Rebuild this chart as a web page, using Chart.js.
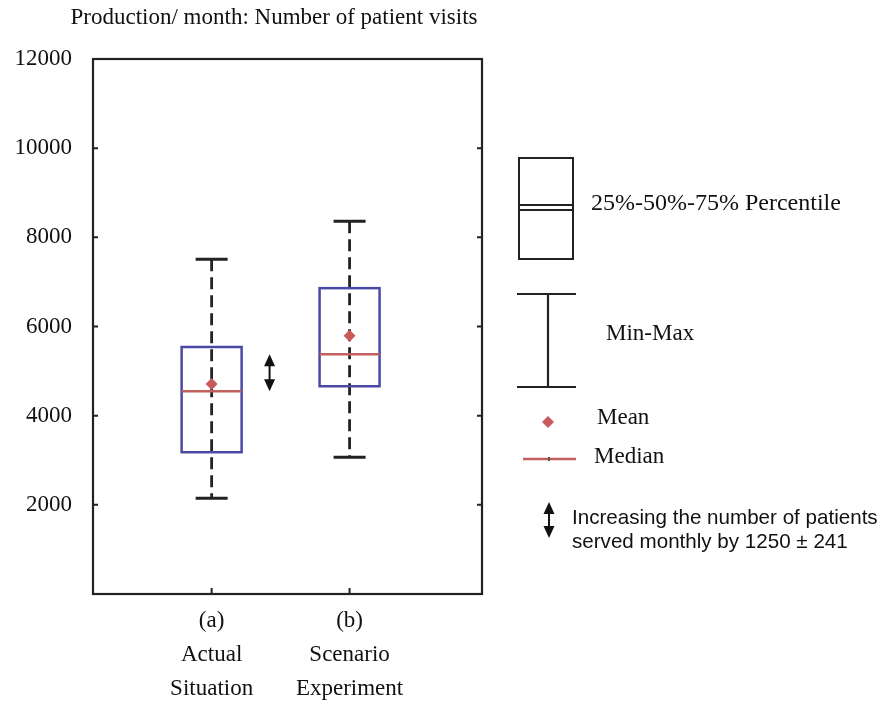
<!DOCTYPE html>
<html lang="en">
<head>
<meta charset="UTF-8">
<title>Production / month: Number of patient visits</title>
<script src="https://cdn.jsdelivr.net/npm/chart.js@4.4.0/dist/chart.umd.min.js"></script>
<style>
  html, body { margin: 0; padding: 0; background: #fff; }
</style>
</head>
<body>
<canvas id="boxChart" width="891" height="701"></canvas>
<script>
// data
var groups = ['(a)', '(b)'];
var groupNames = [['Actual', 'Situation'], ['Scenario', 'Experiment']];
var groupPos = [1, 2];
var minVals = [2150, 3070];
var q1Vals = [3180, 4660];
var medianVals = [4550, 5380];
var q3Vals = [5540, 6860];
var maxVals = [7510, 8360];
var meanVals = [4710, 5790];
var yTicks = [0, 2000, 4000, 6000, 8000, 10000, 12000];

var serif = "'Liberation Serif', 'Times New Roman', serif";
var sans = "'Liberation Sans', Arial, sans-serif";
var boxColor = '#4a4aa6';
var medColor = '#c0605f';
var meanColor = '#c85a5a';

var meanPoints = groupPos.map(function (p, i) { return { x: p, y: meanVals[i] }; });

function arrow(ctx, x, y1, y2) {
  // double headed arrow, y1 = top, y2 = bottom
  ctx.save();
  ctx.strokeStyle = '#111';
  ctx.fillStyle = '#111';
  ctx.lineWidth = 2;
  ctx.beginPath();
  ctx.moveTo(x, y1 + 8);
  ctx.lineTo(x, y2 - 8);
  ctx.stroke();
  ctx.beginPath();
  ctx.moveTo(x, y1); ctx.lineTo(x - 5.5, y1 + 12); ctx.lineTo(x + 5.5, y1 + 12); ctx.closePath();
  ctx.fill();
  ctx.beginPath();
  ctx.moveTo(x, y2); ctx.lineTo(x - 5.5, y2 - 12); ctx.lineTo(x + 5.5, y2 - 12); ctx.closePath();
  ctx.fill();
  ctx.restore();
}

var boxPlugin = {
  id: 'boxes',
  beforeDatasetsDraw: function (chart) {
    var ctx = chart.ctx, xs = chart.scales.x, ys = chart.scales.y;
    var boxHalf = 30, capHalf = 16;
    ctx.save();
    for (var i = 0; i < groups.length; i++) {
      var cx = xs.getPixelForValue(groupPos[i]);
      var yMin = ys.getPixelForValue(minVals[i]);
      var yMax = ys.getPixelForValue(maxVals[i]);
      var yQ1 = ys.getPixelForValue(q1Vals[i]);
      var yQ3 = ys.getPixelForValue(q3Vals[i]);
      var yMed = ys.getPixelForValue(medianVals[i]);

      // whisker (dashed, runs through the box)
      ctx.strokeStyle = '#222';
      ctx.lineWidth = 2.8;
      ctx.setLineDash([12, 6]);
      ctx.beginPath();
      ctx.moveTo(cx, yMax);
      ctx.lineTo(cx, yMin);
      ctx.stroke();
      ctx.setLineDash([]);

      // caps
      ctx.lineWidth = 3;
      ctx.beginPath();
      ctx.moveTo(cx - capHalf, yMax); ctx.lineTo(cx + capHalf, yMax);
      ctx.moveTo(cx - capHalf, yMin); ctx.lineTo(cx + capHalf, yMin);
      ctx.stroke();

      // box
      ctx.strokeStyle = boxColor;
      ctx.lineWidth = 2.5;
      ctx.strokeRect(cx - boxHalf, yQ3, boxHalf * 2, yQ1 - yQ3);

      // median
      ctx.strokeStyle = medColor;
      ctx.lineWidth = 2.5;
      ctx.beginPath();
      ctx.moveTo(cx - boxHalf, yMed); ctx.lineTo(cx + boxHalf, yMed);
      ctx.stroke();
    }
    ctx.restore();

    // arrow between the two medians
    var ax = xs.getPixelForValue(1.42);
    arrow(ctx, ax, ys.getPixelForValue(medianVals[1]), ys.getPixelForValue(medianVals[0]));
  },
  afterDraw: function (chart) {
    var ctx = chart.ctx, a = chart.chartArea, xs = chart.scales.x, ys = chart.scales.y;
    ctx.save();
    // frame
    ctx.strokeStyle = '#222';
    ctx.lineWidth = 2.2;
    ctx.strokeRect(a.left, a.top, a.right - a.left, a.bottom - a.top);
    // inward ticks
    ctx.lineWidth = 2;
    ctx.beginPath();
    yTicks.forEach(function (v) {
      var y = ys.getPixelForValue(v);
      ctx.moveTo(a.left, y); ctx.lineTo(a.left + 5, y);
      ctx.moveTo(a.right, y); ctx.lineTo(a.right - 5, y);
    });
    groupPos.forEach(function (p) {
      var x = xs.getPixelForValue(p);
      ctx.moveTo(x, a.bottom); ctx.lineTo(x, a.bottom - 6);
    });
    ctx.stroke();

    // title
    ctx.fillStyle = '#111';
    ctx.font = '23px ' + serif;
    ctx.textAlign = 'center';
    ctx.textBaseline = 'middle';
    ctx.fillText('Production/ month: Number of patient visits', 274, 18);

    // key on the right
    ctx.textAlign = 'left';
    ctx.strokeStyle = '#222';
    ctx.lineWidth = 2;
    ctx.strokeRect(519, 158, 54, 101);
    ctx.beginPath();
    ctx.moveTo(519, 205); ctx.lineTo(573, 205);
    ctx.moveTo(519, 210); ctx.lineTo(573, 210);
    ctx.stroke();
    ctx.font = '24px ' + serif;
    ctx.fillText('25%-50%-75% Percentile', 591, 204);

    ctx.lineWidth = 2.2;
    ctx.beginPath();
    ctx.moveTo(517, 294); ctx.lineTo(576, 294);
    ctx.moveTo(548, 294); ctx.lineTo(548, 387);
    ctx.moveTo(517, 387); ctx.lineTo(576, 387);
    ctx.stroke();
    ctx.font = '23px ' + serif;
    ctx.fillText('Min-Max', 606, 334);

    ctx.fillStyle = meanColor;
    ctx.beginPath();
    ctx.moveTo(548, 416); ctx.lineTo(554, 422); ctx.lineTo(548, 428); ctx.lineTo(542, 422);
    ctx.closePath();
    ctx.fill();
    ctx.fillStyle = '#111';
    ctx.fillText('Mean', 597, 418);

    ctx.strokeStyle = medColor;
    ctx.lineWidth = 2.5;
    ctx.beginPath();
    ctx.moveTo(523, 459); ctx.lineTo(576, 459);
    ctx.stroke();
    ctx.fillStyle = '#555';
    ctx.fillRect(548, 457, 2, 4);
    ctx.fillStyle = '#111';
    ctx.fillText('Median', 594, 457);

    arrow(ctx, 549, 502, 538);
    ctx.font = '20.6px ' + sans;
    ctx.fillText('Increasing the number of patients', 572, 518);
    ctx.fillText('served monthly by 1250 \u00b1 241', 572, 542);
    ctx.restore();
  }
};

var chart = new Chart(document.getElementById('boxChart').getContext('2d'), {
  type: 'scatter',
  data: {
    datasets: [{
      label: 'Mean',
      data: meanPoints,
      pointStyle: 'rectRot',
      pointRadius: 6,
      backgroundColor: meanColor,
      borderColor: meanColor,
      borderWidth: 0
    }]
  },
  options: {
    responsive: false,
    animation: false,
    layout: { padding: { top: 59, right: 409, bottom: 0, left: 0 } },
    plugins: { legend: { display: false }, tooltip: { enabled: false } },
    scales: {
      x: {
        type: 'linear',
        min: 0.14,
        max: 2.96,
        grid: { display: false, drawTicks: false },
        border: { display: false },
        afterBuildTicks: function (scale) {
          scale.ticks = groupPos.map(function (p) { return { value: p }; });
        },
        afterFit: function (scale) { scale.height = 107; },
        ticks: {
          padding: 10,
          color: '#111',
          maxRotation: 0,
          font: { family: serif, size: 23, lineHeight: 1.48 },
          callback: function (value) {
            var i = groupPos.indexOf(value);
            if (i < 0) return '';
            return [groups[i]].concat(groupNames[i]);
          }
        }
      },
      y: {
        min: 0,
        max: 12000,
        grid: { display: false, drawTicks: false },
        border: { display: false },
        afterBuildTicks: function (scale) {
          scale.ticks = yTicks.map(function (v) { return { value: v }; });
        },
        afterFit: function (scale) { scale.width = 93; },
        ticks: {
          padding: 21,
          color: '#111',
          font: { family: serif, size: 23 },
          callback: function (value) { return value === 0 ? '' : value; }
        }
      }
    }
  },
  plugins: [boxPlugin]
});
</script>
</body>
</html>
